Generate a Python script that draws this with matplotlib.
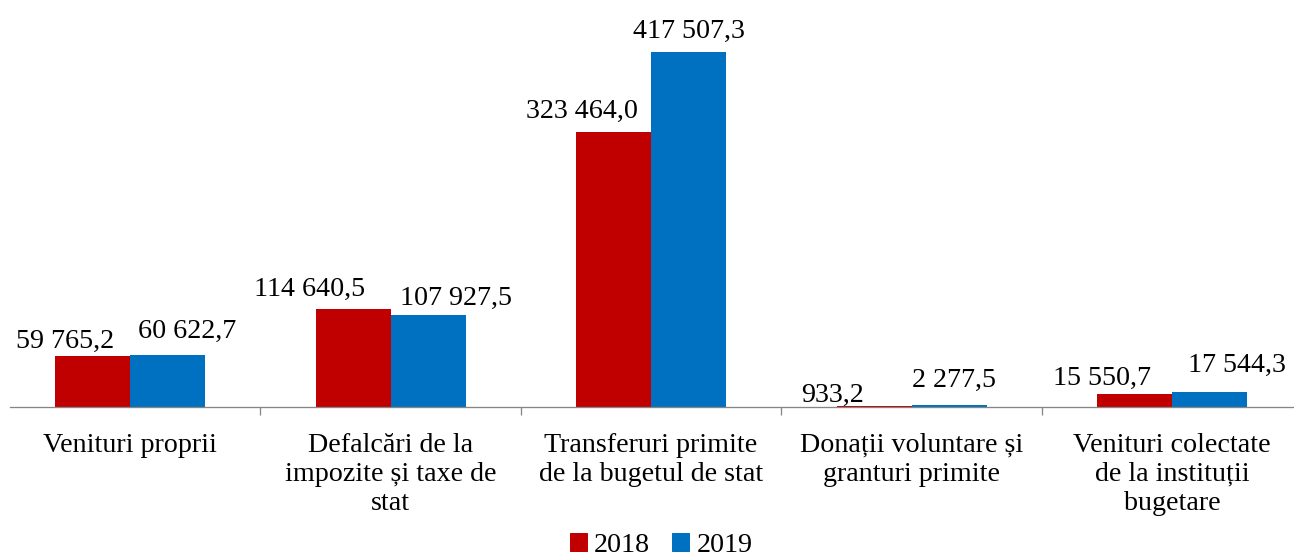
import matplotlib
matplotlib.use("Agg")
import matplotlib.pyplot as plt
import matplotlib.patches as mpatches
import numpy as np

# data
categories = ["Venituri proprii",
              "Defalcări de la\nimpozite și taxe de\nstat",
              "Transferuri primite\nde la bugetul de stat",
              "Donații voluntare și\ngranturi primite",
              "Venituri colectate\nde la instituții\nbugetare"]
years = ["2018", "2019"]
val_2018 = [59765.2, 114640.5, 323464.0, 933.2, 15550.7]
val_2019 = [60622.7, 107927.5, 417507.3, 2277.5, 17544.3]

# label offsets in pixels (dx, dy) from the top centre of each bar
off_2018 = [(-27, 8), (-43, 14), (-32, 14), (-42, 4), (-33, 9)]
off_2019 = [(20, 17), (28, 10), (0, 14), (5, 18), (27, 20)]

red = "#C00000"
blue = "#0070C0"
plt.rcParams['font.family'] = ['Liberation Serif', 'DejaVu Serif']
FS = 28

W, H = 1294, 555
fig = plt.figure(figsize=(W / 72, H / 72), dpi=72)
# axes: x from 10px to 1294px, baseline at y=407, top at y=24
ax = fig.add_axes([10 / W, (H - 407) / H, 1284 / W, 383 / H])

x = np.arange(len(categories))
bw = 0.288
ax.bar(x - bw / 2, val_2018, bw, color=red, label=years[0])
ax.bar(x + bw / 2, val_2019, bw, color=blue, label=years[1])

ax.set_xlim(-0.4607, 4.468)
ax.set_ylim(0, 450000)


def fmt(v):
    return f"{v:,.1f}".replace(",", " ").replace(".", ",")


for i in range(len(categories)):
    for vals, offs, sign in ((val_2018, off_2018, -1), (val_2019, off_2019, 1)):
        ax.annotate(fmt(vals[i]), xy=(x[i] + sign * bw / 2, vals[i]),
                    xytext=offs[i], textcoords="offset points",
                    ha="center", va="baseline", fontsize=FS)

# axis styling
for s in ["top", "right", "left"]:
    ax.spines[s].set_visible(False)
ax.spines["bottom"].set_color("#868686")
ax.spines["bottom"].set_linewidth(1.3)
ax.set_yticks([])
ax.set_xticks(np.arange(0.5, len(categories) - 0.5, 1))
ax.set_xticklabels([])
ax.tick_params(axis="x", length=8, width=1.3, color="#868686", direction="out")

for i, c in enumerate(categories):
    ax.text(x[i], -26 / 383, c, transform=ax.get_xaxis_transform(),
            ha="center", va="top", fontsize=FS, linespacing=1.2)

handles = [mpatches.Patch(color=red, label=years[0]),
           mpatches.Patch(color=blue, label=years[1])]
fig.legend(handles=handles, loc="lower center", bbox_to_anchor=(0.511, -0.05),
           ncol=2, frameon=False, fontsize=FS, handlelength=0.6,
           handleheight=0.6, handletextpad=0.25, columnspacing=0.8)

fig.savefig("out.png", dpi=72)
